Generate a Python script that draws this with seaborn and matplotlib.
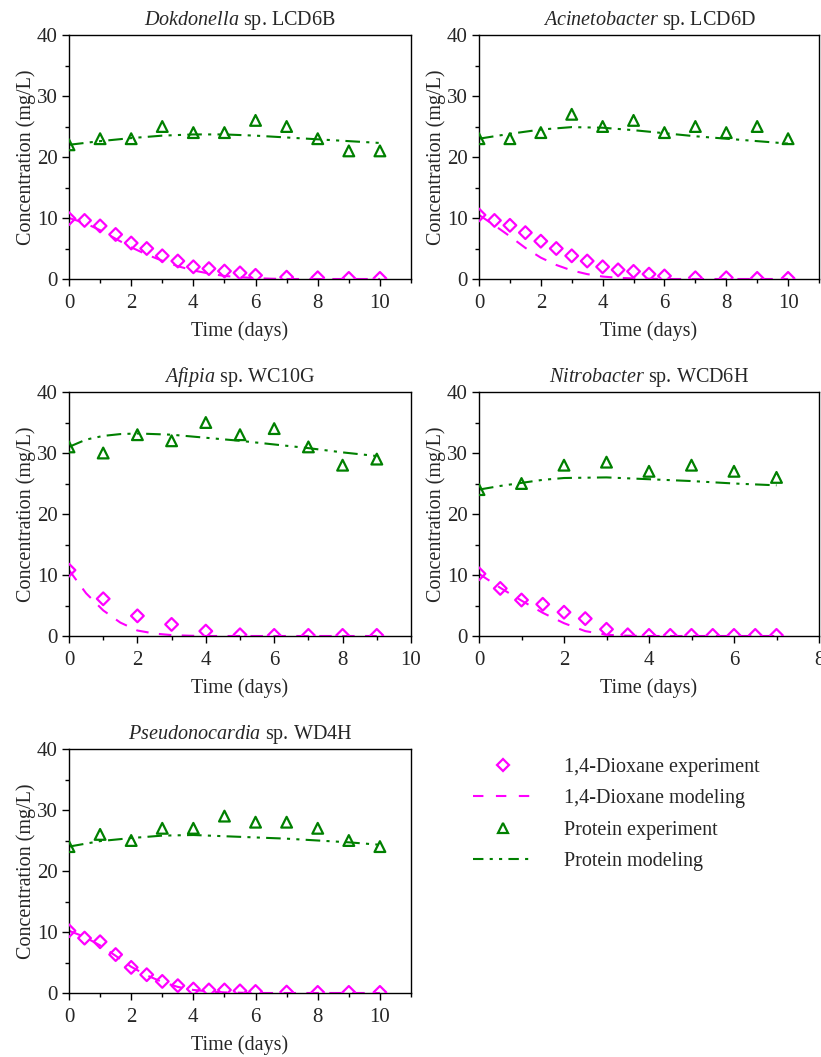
import numpy as np
import pandas as pd
import matplotlib
matplotlib.use("Agg")
import matplotlib.pyplot as plt
import seaborn as sns
from matplotlib.lines import Line2D
from matplotlib.ticker import MultipleLocator

sns.set_theme(style="ticks")
plt.rcParams['font.family'] = ['Liberation Serif', 'DejaVu Serif']
plt.rcParams['mathtext.fontset'] = 'custom'
plt.rcParams['mathtext.rm'] = 'Liberation Serif'
plt.rcParams['mathtext.it'] = 'Liberation Serif:italic'

# ---------------- data ----------------
titles = [r"$\it{Dokdonella}$ sp. LCD6B",
          r"$\it{Acinetobacter}$ sp. LCD6D",
          r"$\it{Afipia}$ sp. WC10G",
          r"$\it{Nitrobacter}$ sp. WCD6H",
          r"$\it{Pseudonocardia}$ sp. WD4H"]
xmax = [11, 11, 10, 8, 11]

# Dokdonella
dk_dx = [0, 0.5, 1, 1.5, 2, 2.5, 3, 3.5, 4, 4.5, 5, 5.5, 6, 7, 8, 9, 10]
dk_dy = [9.9, 9.6, 8.7, 7.3, 5.9, 5.0, 3.8, 2.95, 2.0, 1.7, 1.3, 1.0, 0.6, 0.3, 0.2, 0.1, 0.1]
dk_mx = [0, 0.5, 1, 1.5, 2, 2.5, 3, 3.5, 4, 4.5, 5, 5.5, 6, 6.5, 7, 8, 9, 10]
dk_my = [10.0, 9.2, 8.0, 6.6, 5.2, 4.0, 3.0, 2.1, 1.4, 0.9, 0.5, 0.3, 0.15, 0.05, 0, 0, 0, 0]
dk_px = [0, 1, 2, 3, 4, 5, 6, 7, 8, 9, 10]
dk_py = [22, 23, 23, 25, 24, 24, 26, 25, 23, 21, 21]
dk_qx = [0, 1, 2, 3, 4, 5, 6, 7, 8, 9, 10]
dk_qy = [22.0, 22.6, 23.1, 23.5, 23.7, 23.7, 23.5, 23.2, 22.9, 22.6, 22.3]

# Acinetobacter
ac_dx = [0, 0.5, 1, 1.5, 2, 2.5, 3, 3.5, 4, 4.5, 5, 5.5, 6, 7, 8, 9, 10]
ac_dy = [10.5, 9.6, 8.8, 7.6, 6.2, 5.0, 3.8, 2.95, 2.0, 1.5, 1.25, 0.8, 0.5, 0.2, 0.2, 0.1, 0.1]
ac_mx = [0, 0.5, 1, 1.5, 2, 2.5, 3, 3.5, 4, 4.5, 5, 5.5, 6, 7, 8, 9, 10]
ac_my = [10.5, 8.8, 7.0, 5.1, 3.5, 2.3, 1.4, 0.8, 0.4, 0.2, 0.1, 0.05, 0, 0, 0, 0, 0]
ac_px = [0, 1, 2, 3, 4, 5, 6, 7, 8, 9, 10]
ac_py = [23, 23, 24, 27, 25, 26, 24, 25, 24, 25, 23]
ac_qx = [0, 1, 2, 3, 4, 5, 6, 7, 8, 9, 10]
ac_qy = [23.0, 23.8, 24.5, 24.9, 24.8, 24.4, 23.9, 23.4, 23.0, 22.6, 22.2]

# Afipia
af_dx = [0, 1, 2, 3, 4, 5, 6, 7, 8, 9]
af_dy = [10.8, 6.1, 3.3, 1.9, 0.8, 0.2, 0.1, 0.1, 0.1, 0.1]
af_mx = [0, 0.5, 1, 1.5, 2, 2.5, 3, 3.5, 4, 5, 6, 7, 8, 9]
af_my = [10.8, 7.0, 4.2, 2.2, 0.9, 0.4, 0.15, 0.05, 0, 0, 0, 0, 0, 0]
af_px = [0, 1, 2, 3, 4, 5, 6, 7, 8, 9]
af_py = [31, 30, 33, 32, 35, 33, 34, 31, 28, 29]
af_qx = [0, 0.5, 1, 1.5, 2, 3, 4, 5, 6, 7, 8, 9]
af_qy = [31.0, 32.2, 32.8, 33.1, 33.2, 33.0, 32.5, 32.0, 31.4, 30.8, 30.1, 29.5]

# Nitrobacter
nb_dx = [0, 0.5, 1, 1.5, 2, 2.5, 3, 3.5, 4, 4.5, 5, 5.5, 6, 6.5, 7]
nb_dy = [10.2, 7.8, 5.9, 5.2, 3.9, 2.85, 1.1, 0.2, 0.1, 0.1, 0.1, 0.1, 0.1, 0.1, 0.1]
nb_mx = [0, 0.5, 1, 1.5, 2, 2.5, 3, 3.5, 4, 5, 6, 7]
nb_my = [10.2, 7.9, 5.8, 3.8, 2.1, 0.8, 0.2, 0.05, 0, 0, 0, 0]
nb_px = [0, 1, 2, 3, 4, 5, 6, 7]
nb_py = [24, 25, 28, 28.5, 27, 28, 27, 26]
nb_qx = [0, 0.5, 1, 1.5, 2, 3, 4, 5, 6, 7]
nb_qy = [24.0, 24.6, 25.1, 25.6, 25.9, 26.0, 25.7, 25.4, 25.0, 24.7]

# Pseudonocardia
ps_dx = [0, 0.5, 1, 1.5, 2, 2.5, 3, 3.5, 4, 4.5, 5, 5.5, 6, 7, 8, 9, 10]
ps_dy = [10.2, 9.0, 8.4, 6.3, 4.2, 3.0, 1.9, 1.2, 0.65, 0.5, 0.5, 0.35, 0.25, 0.15, 0.1, 0.1, 0.1]
ps_mx = [0, 0.5, 1, 1.5, 2, 2.5, 3, 3.5, 4, 4.5, 5, 5.5, 6, 7, 8, 9, 10]
ps_my = [10.2, 9.2, 7.8, 6.1, 4.3, 2.9, 1.8, 1.0, 0.5, 0.25, 0.1, 0.05, 0, 0, 0, 0, 0]
ps_px = [0, 1, 2, 3, 4, 5, 6, 7, 8, 9, 10]
ps_py = [24, 26, 25, 27, 27, 29, 28, 28, 27, 25, 24]
ps_qx = [0, 1, 2, 3, 4, 5, 6, 7, 8, 9, 10]
ps_qy = [24.0, 24.9, 25.4, 25.8, 25.9, 25.7, 25.5, 25.3, 25.0, 24.7, 24.3]

panels = [
    (dk_dx, dk_dy, dk_mx, dk_my, dk_px, dk_py, dk_qx, dk_qy),
    (ac_dx, ac_dy, ac_mx, ac_my, ac_px, ac_py, ac_qx, ac_qy),
    (af_dx, af_dy, af_mx, af_my, af_px, af_py, af_qx, af_qy),
    (nb_dx, nb_dy, nb_mx, nb_my, nb_px, nb_py, nb_qx, nb_qy),
    (ps_dx, ps_dy, ps_mx, ps_my, ps_px, ps_py, ps_qx, ps_qy),
]

legend_labels = ["1,4-Dioxane experiment", "1,4-Dioxane modeling",
                 "Protein experiment", "Protein modeling"]

MAG = "#FF00FF"
GRN = "#008000"
dash_style = (0, (6, 5))
dashdot_style = (0, (7, 3, 1.5, 3, 1.5, 3))

W, H = 821, 1057
fig = plt.figure(figsize=(W / 100, H / 100), dpi=100)

col_x = [69, 479]
col_w = [342, 340]
row_top = [35, 392, 749]
row_h = 244

FS = 14.5

positions = [(0, 0), (0, 1), (1, 0), (1, 1), (2, 0)]
for i, (r, c) in enumerate(positions):
    left = col_x[c] / W
    bottom = 1 - (row_top[r] + row_h) / H
    ax = fig.add_axes([left, bottom, col_w[c] / W, row_h / H])
    dx, dy, mx, my, px, py, qx, qy = panels[i]

    sns.lineplot(x=mx, y=my, ax=ax, color=MAG, lw=1.5, linestyle=dash_style, legend=False)
    sns.lineplot(x=qx, y=qy, ax=ax, color=GRN, lw=1.5, linestyle=dashdot_style, legend=False)
    sns.scatterplot(x=dx, y=dy, ax=ax, marker="D", s=42, facecolor="none",
                    edgecolor=MAG, linewidth=1.6, legend=False, zorder=3)
    sns.scatterplot(x=px, y=py, ax=ax, marker="^", s=60, facecolor="none",
                    edgecolor=GRN, linewidth=1.6, legend=False, zorder=3)

    ax.set_xlim(0, xmax[i])
    ax.set_ylim(0, 40)
    ax.xaxis.set_major_locator(MultipleLocator(2))
    ax.xaxis.set_minor_locator(MultipleLocator(1))
    ax.yaxis.set_major_locator(MultipleLocator(10))
    ax.yaxis.set_minor_locator(MultipleLocator(5))
    ax.tick_params(axis="both", which="major", direction="out", length=5, width=1,
                   labelsize=FS + 0.5, top=False, right=False, color="black")
    ax.tick_params(axis="x", which="major", pad=6)
    ax.tick_params(axis="y", which="major", pad=3)
    ax.tick_params(axis="both", which="minor", direction="out", length=3, width=1,
                   top=False, right=False, color="black")
    for sp in ax.spines.values():
        sp.set_visible(True)
        sp.set_linewidth(1.0)
        sp.set_color("black")
    ax.set_xlabel("Time (days)", fontsize=FS, labelpad=6)
    ax.set_ylabel("Concentration (mg/L)", fontsize=FS, labelpad=1)
    ax.set_title(titles[i], fontsize=FS, pad=7)

# legend
handles = [
    Line2D([], [], marker="D", ls="none", mfc="none", mec=MAG, mew=1.6, ms=6.5),
    Line2D([], [], color=MAG, lw=1.5, linestyle=(0, (5, 6))),
    Line2D([], [], marker="^", ls="none", mfc="none", mec=GRN, mew=1.6, ms=7.5),
    Line2D([], [], color=GRN, lw=1.5, linestyle=(0, (5, 3, 1.5, 3, 1.5, 3))),
]
fig.legend(handles, legend_labels, loc="upper left",
           bbox_to_anchor=(455 / W, 1 - 740 / H), frameon=False, fontsize=FS,
           handlelength=3.0, handletextpad=1.5, labelspacing=0.6)

fig.savefig("out.png", dpi=100)
